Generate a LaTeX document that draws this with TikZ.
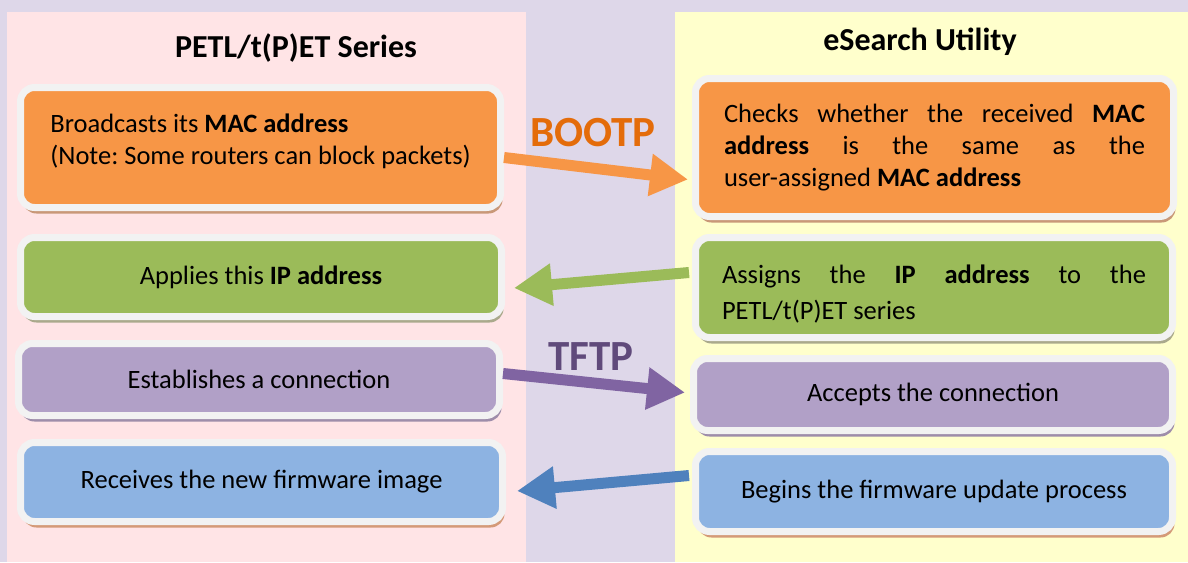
\documentclass[tikz,border=0pt]{standalone}
\usepackage{fontspec}
\setmainfont{Carlito}
\frenchspacing
\usetikzlibrary{arrows.meta,shadows}

\definecolor{bgviolet}{HTML}{DED7E9}
\definecolor{panelpink}{HTML}{FFE4E6}
\definecolor{panelyellow}{HTML}{FFFFCC}
\definecolor{boxrim}{HTML}{F2F2F2}
\definecolor{fillorange}{HTML}{F79646}
\definecolor{fillgreen}{HTML}{9BBB59}
\definecolor{fillpurple}{HTML}{B1A0C7}
\definecolor{fillblue}{HTML}{8DB3E2}
\definecolor{darkpurple}{HTML}{8064A2}
\definecolor{darkblue}{HTML}{4F81BD}
\definecolor{labelorange}{HTML}{E46C0A}
\definecolor{labelpurple}{HTML}{604A7B}
\definecolor{shorange}{HTML}{C99878}
\definecolor{shgreen}{HTML}{AAA98C}
\definecolor{shpurple}{HTML}{9E8DAA}
\definecolor{shblue}{HTML}{D49A78}

\begin{document}
\begin{tikzpicture}[x=1pt,y=-1pt,
    box/.style={draw=boxrim,line width=7pt,rounded corners=14pt,inner sep=0pt,
      font=\fontsize{26.5}{32}\selectfont},
    lift/.style={drop shadow={shadow xshift=2pt,shadow yshift=-6pt,fill=#1,opacity=1}},
    flow/.style={line width=11pt,-{Triangle[length=38pt,width=40pt]}},
    proto/.style={font=\fontsize{43}{44}\selectfont\bfseries},
    heading/.style={font=\fontsize{32}{34}\selectfont\bfseries}]
    \fill[bgviolet] (0,0) rectangle (1188,562);
    \fill[panelpink] (7,12) rectangle (526,562);
    \fill[panelyellow] (675,12) rectangle (1188,562);
    \node[heading] (devtitle) at (296,48) {PETL/t(P)ET Series};
    \node[heading] (esearchtitle) at (920,42) {eSearch Utility};
    % device side
    \node[box,lift=shorange,fill=fillorange,minimum width=480pt,minimum height=120pt,align=left]
        (broadcast) at (260.5,147.5) {Broadcasts its \textbf{MAC address}\\(Note: Some routers can block packets)\\[-16pt]};
    \node[box,lift=shgreen,fill=fillgreen,minimum width=481pt,minimum height=79pt]
        (apply) at (261,277) {Applies this \textbf{IP address}};
    \node[box,lift=shpurple,fill=fillpurple,minimum width=481pt,minimum height=72pt]
        (establish) at (259,379.5) {Establishes a connection};
    \node[box,lift=shblue,fill=fillblue,minimum width=482pt,minimum height=79pt]
        (receive) at (261.5,482) {Receives the new firmware image};
    % utility side
    \node[box,lift=shorange,fill=fillorange,minimum width=478pt,minimum height=138pt,text width=421pt,align=justify]
        (check) at (934.5,147.5) {Checks whether the received \textbf{MAC}\linebreak \textbf{address} is the same as the\linebreak user-assigned \textbf{MAC address}};
    \node[box,lift=shgreen,fill=fillgreen,minimum width=477pt,minimum height=100pt,text width=424pt,align=justify,
        font=\fontsize{26.5}{36}\selectfont]
        (assign) at (934,287.5) {\rule{0pt}{32pt}Assigns the \textbf{IP address} to the\linebreak PETL/t(P)ET series};
    \node[box,lift=shpurple,fill=fillpurple,minimum width=479pt,minimum height=72pt]
        (accept) at (933,394.5) {Accepts the connection};
    \node[box,lift=shblue,fill=fillblue,minimum width=477pt,minimum height=80pt]
        (begin) at (934,491.5) {Begins the firmware update process};
    % arrows
    \draw[flow,fillorange] ([yshift=-10pt]broadcast.east) -- ([yshift=-32pt,xshift=-4pt]check.west);
    \draw[flow,fillgreen] ([yshift=15pt,xshift=-3pt]assign.west) -- ([yshift=-11pt,xshift=9pt]apply.east);
    \draw[flow,darkpurple] ([yshift=6pt]establish.east) -- ([yshift=2pt,xshift=-5pt]accept.west);
    \draw[flow,darkblue] ([yshift=16pt,xshift=-3pt]begin.west) -- ([yshift=-9pt,xshift=11pt]receive.east);
    \node[proto,labelorange] (bootp) at (593,133) {BOOTP};
    \node[proto,labelpurple] (tftp) at (591,357) {TFTP};
\end{tikzpicture}
\end{document}
